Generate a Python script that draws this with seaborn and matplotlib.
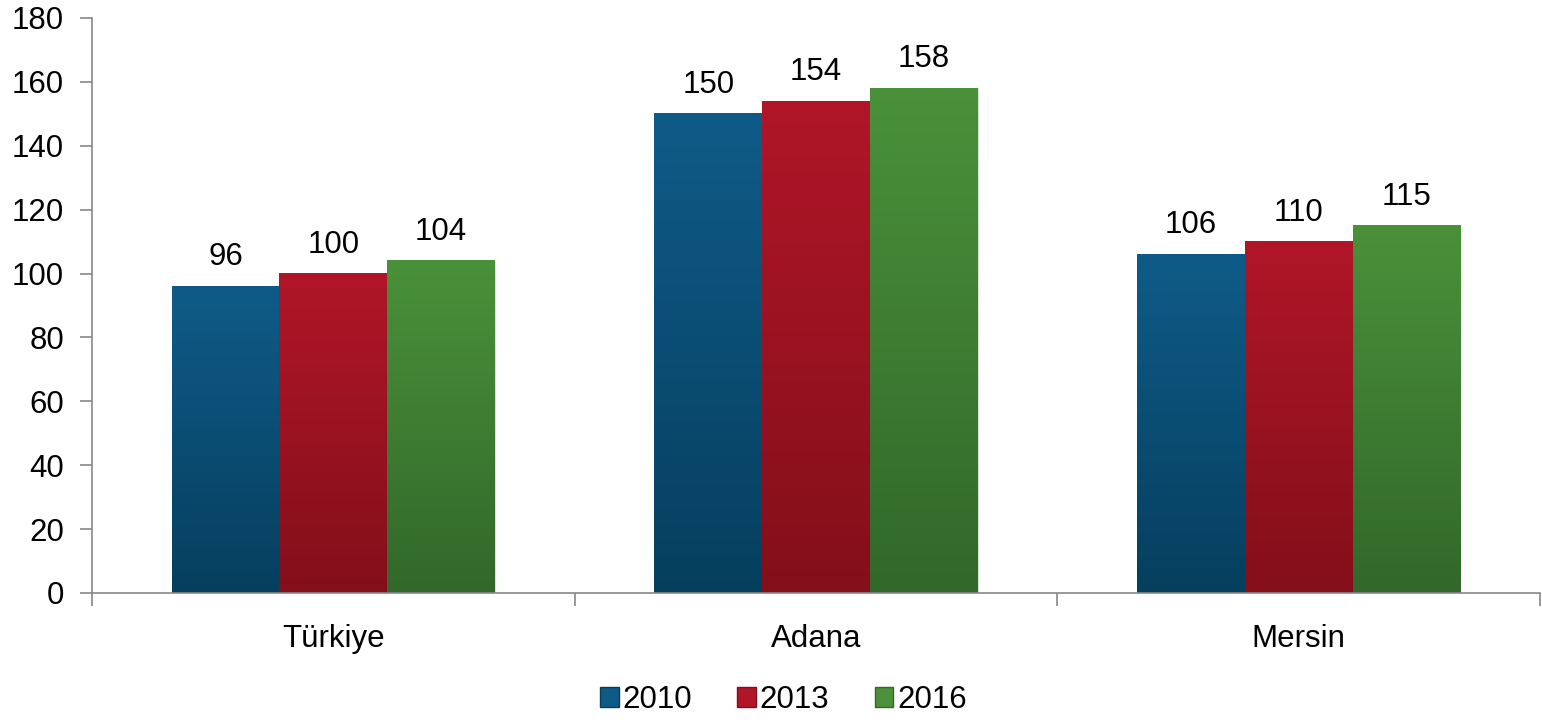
import numpy as np
import pandas as pd
import matplotlib
matplotlib.use("Agg")
import matplotlib.pyplot as plt
import seaborn as sns
from matplotlib.colors import LinearSegmentedColormap
from matplotlib.patches import Patch

# data
regions = ["Türkiye", "Adana", "Mersin"]
years = ["2010", "2013", "2016"]
v2010 = [96, 150, 106]
v2013 = [100, 154, 110]
v2016 = [104, 158, 115]

# top / bottom colours of each gradient
top_cols = {"2010": "#0F5B88", "2013": "#B01628", "2016": "#4A913A"}
bot_cols = {"2010": "#063F5E", "2013": "#830F1A", "2016": "#32682A"}

df = pd.DataFrame({
    "region": regions * 3,
    "year": [y for y in years for _ in regions],
    "value": v2010 + v2013 + v2016,
})

sns.set_style("white")
plt.rcParams["font.family"] = ["Liberation Sans", "DejaVu Sans"]
plt.rcParams["text.color"] = "black"
FS = 22.5

fig = plt.figure(figsize=(15.42, 7.2), dpi=100)
ax = fig.add_axes([92 / 1542, 1 - 593 / 720, 1448 / 1542, 575 / 720])

sns.barplot(data=df, x="region", y="value", hue="year", order=regions,
            hue_order=years, palette=top_cols, width=0.67, gap=0,
            saturation=1, ax=ax, legend=False, errorbar=None)

# gradient fill over each bar
for cont, yr in zip(ax.containers, years):
    cmap = LinearSegmentedColormap.from_list(yr, [bot_cols[yr], top_cols[yr]])
    grad = np.linspace(0, 1, 256).reshape(-1, 1)
    for bar in cont:
        x0, w, h = bar.get_x(), bar.get_width(), bar.get_height()
        bar.set_edgecolor("#ffffff")
        bar.set_linewidth(0.4)
        ax.imshow(grad, cmap=cmap, origin="lower", aspect="auto",
                  extent=[x0, x0 + w, 0, h], zorder=bar.get_zorder() + 0.1)
    ax.bar_label(cont, labels=[str(int(b.get_height())) for b in cont],
                 padding=10, fontsize=FS, color="black")

ax.set_xlim(-0.5, 2.5)
ax.set_ylim(0, 180)
ax.set_aspect("auto")

ax.set_yticks(range(0, 181, 20))
ax.set_xticks(range(3))
ax.set_xticks([-0.5, 0.5, 1.5, 2.5], minor=True)
ax.tick_params(axis="y", which="major", direction="out", length=9, width=1.2,
               color="#888888", labelsize=FS, labelcolor="black", pad=11, left=True)
ax.tick_params(axis="x", which="major", length=0, labelsize=FS,
               labelcolor="black", pad=22)
ax.tick_params(axis="x", which="minor", direction="out", length=9, width=1.2,
               color="#888888", bottom=True)
ax.set_xlabel("")
ax.set_ylabel("")

for s in ["top", "right"]:
    ax.spines[s].set_visible(False)
for s in ["left", "bottom"]:
    ax.spines[s].set_color("#888888")
    ax.spines[s].set_linewidth(1.2)

handles = [Patch(facecolor=top_cols[y], edgecolor=bot_cols[y], label=y) for y in years]
fig.legend(handles=handles, loc="center", bbox_to_anchor=(0.508, 0.028),
           ncol=3, frameon=False, fontsize=FS, handlelength=0.6,
           handleheight=0.6, handletextpad=0.12, columnspacing=1.45,
           labelcolor="black")

fig.savefig("out.png", dpi=100)
